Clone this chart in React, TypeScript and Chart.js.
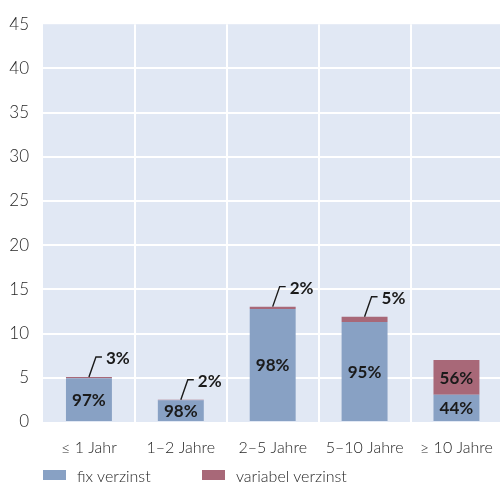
import { useEffect, useRef } from "react";
import { Chart, registerables } from "chart.js";

Chart.register(...registerables);

// Laufzeitbänder
const categories = ["≤ 1 Jahr", "1–2 Jahre", "2–5 Jahre", "5–10 Jahre", "≥ 10 Jahre"];
// Gesamtvolumen je Laufzeitband
const totals = [5.09, 2.51, 13.05, 11.91, 7.0];
// Anteile in Prozent
const fixPct = [97, 98, 98, 95, 44];
const varPct = [3, 2, 2, 5, 56];
const seriesNames = ["fix verzinst", "variabel verzinst"];
const yMin = 0;
const yMax = 45;
const yStep = 5;

const fixValues = totals.map((t, i) => (t * fixPct[i]) / 100);
const varValues = totals.map((t, i) => (t * varPct[i]) / 100);

const BLUE = "#88a1c4";
const RED = "#a86878";
const PLOT_BG = "#e1e8f4";
const TEXT = "#262626";
const FONT = "Lato, 'Open Sans', sans-serif";
const seriesColors = [BLUE, RED];

const plotBackground = {
  id: "plotBackground",
  beforeDraw(chart: any) {
    const { ctx, chartArea } = chart;
    ctx.save();
    ctx.fillStyle = PLOT_BG;
    ctx.fillRect(chartArea.left, chartArea.top, chartArea.right - chartArea.left, chartArea.bottom - chartArea.top);
    ctx.restore();
  },
};

const shareLabels = {
  id: "shareLabels",
  afterDatasetsDraw(chart: any) {
    const { ctx } = chart;
    const fixMeta = chart.getDatasetMeta(0);
    const varMeta = chart.getDatasetMeta(1);
    ctx.save();
    ctx.font = `700 17px ${FONT}`;
    ctx.fillStyle = "#1a1a1a";
    ctx.strokeStyle = "#1a1a1a";
    ctx.lineWidth = 1.4;
    categories.forEach((_, i) => {
      const f = fixMeta.data[i];
      const v = varMeta.data[i];
      // Anteil fix: mittig im blauen Segment
      ctx.textAlign = "center";
      ctx.textBaseline = "middle";
      ctx.fillText(`${fixPct[i]}%`, f.x, (f.y + f.base) / 2 + 1);
      const h = v.base - v.y;
      if (h > 22) {
        ctx.fillText(`${varPct[i]}%`, v.x, (v.y + v.base) / 2 + 1);
      } else {
        // kleine Anteile: Beschriftung mit Hinweislinie
        const x0 = v.x;
        const y0 = v.y;
        const x1 = x0 + 7;
        const y1 = y0 - 20;
        ctx.beginPath();
        ctx.moveTo(x0, y0);
        ctx.lineTo(x1, y1);
        ctx.lineTo(x1 + 6, y1);
        ctx.stroke();
        ctx.textAlign = "left";
        ctx.fillText(`${varPct[i]}%`, x1 + 10, y1 + 2);
      }
    });
    ctx.restore();
  },
};

export default function App() {
  const ref = useRef<HTMLCanvasElement | null>(null);

  useEffect(() => {
    if (!ref.current) return;
    const chart = new Chart(ref.current, {
      type: "bar",
      data: {
        labels: categories,
        datasets: [
          { label: seriesNames[0], data: fixValues, backgroundColor: BLUE, borderWidth: 0 },
          { label: seriesNames[1], data: varValues, backgroundColor: RED, borderWidth: 0 },
        ],
      },
      options: {
        responsive: false,
        animation: false,
        devicePixelRatio: 1,
        layout: { padding: { top: 15, left: 0, right: 1, bottom: 24 } },
        datasets: { bar: { barPercentage: 0.5, categoryPercentage: 1 } },
        scales: {
          x: {
            stacked: true,
            border: { display: false },
            grid: {
              offset: true,
              lineWidth: 2,
              drawTicks: false,
              color: (c: any) => (c.index === 0 || c.index === categories.length ? "rgba(0,0,0,0)" : "#ffffff"),
            },
            ticks: { color: TEXT, font: { family: FONT, size: 16, weight: 300 }, padding: 16 },
            afterFit: (scale: any) => {
              scale.height = 40;
            },
          },
          y: {
            stacked: true,
            min: yMin,
            max: yMax,
            border: { display: false },
            grid: {
              lineWidth: 2,
              drawTicks: false,
              color: (c: any) => {
                const v = c.tick ? c.tick.value : null;
                return v === yMin || v === yMax ? "rgba(0,0,0,0)" : "#ffffff";
              },
            },
            ticks: {
              stepSize: yStep,
              color: TEXT,
              font: { family: FONT, size: 17, weight: 300 },
              padding: 14,
            },
            afterFit: (scale: any) => {
              scale.width = 43;
            },
          },
        },
        plugins: {
          legend: { display: false },
          tooltip: { enabled: false },
        },
      },
      plugins: [plotBackground, shareLabels],
    });
    return () => chart.destroy();
  }, []);

  const legendLeft = [43, 202];

  return (
    <div style={{ position: "fixed", left: 0, top: 0, width: 500, height: 486, overflow: "hidden", background: "#ffffff" }}>
      <canvas ref={ref} width={509} height={486} style={{ display: "block", width: 509, height: 486 }} />
      {seriesNames.map((name, i) => (
        <div
          key={name}
          style={{
            position: "absolute",
            left: legendLeft[i],
            top: 465,
            height: 20,
            display: "flex",
            alignItems: "center",
            fontFamily: FONT,
            fontWeight: 300,
            fontSize: 16,
            color: TEXT,
            whiteSpace: "nowrap",
          }}
        >
          <span style={{ display: "inline-block", width: 23, height: 10, background: seriesColors[i], marginRight: 11 }} />
          <span>{name}</span>
        </div>
      ))}
    </div>
  );
}
